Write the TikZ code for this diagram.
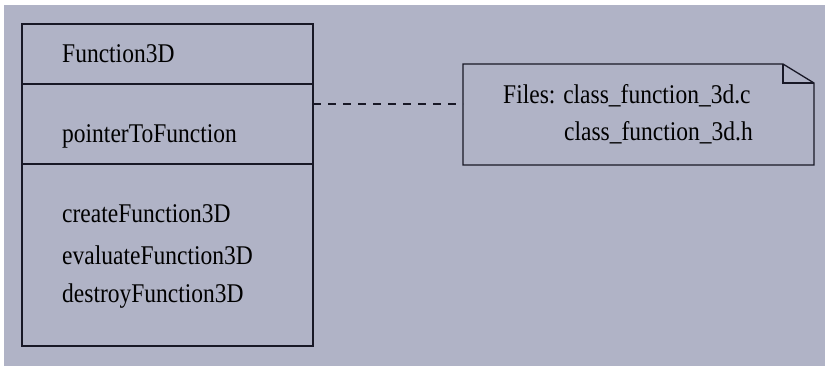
\documentclass[tikz,border=0pt]{standalone}
\usepackage{fontspec}
\setmainfont{Liberation Serif}
\definecolor{bgblue}{RGB}{176,179,198}
\definecolor{linedark}{RGB}{24,24,38}
\newcommand{\umltext}[1]{\scalebox{1}[1.15]{#1}}
\tikzset{
  member/.style={anchor=west, inner sep=0pt, font=\rmfamily\fontsize{23.5}{26}\selectfont},
  umlline/.style={draw=linedark, line width=1.3pt},
}
\begin{document}
\begin{tikzpicture}[x=1pt, y=-1pt]
		\fill[white] (0,0) rectangle (825,366);
		\fill[bgblue] (4,5) rectangle (825,366);
		\useasboundingbox (0,0) rectangle (825,366);
		% class box
		\draw[umlline] (22,24) rectangle (313,346);
		\draw[umlline] (22,84)--(313,84);
		\draw[umlline] (22,164)--(313,164);
		\node[member] (name) at (62,54) {\umltext{Function3D}};
		\node[member] (attr) at (62,136) {\umltext{pointerToFunction}};
		\node[member] (create) at (62,214) {\umltext{createFunction3D}};
		\node[member] (eval) at (62,255) {\umltext{evaluateFunction3D}};
		\node[member] (destroy) at (62,296) {\umltext{destroyFunction3D}};
		\coordinate (classR) at (313,104);
		% note
		\draw[umlline] (463,64)--(783,64)--(814,83)--(814,165)--(463,165)--cycle;
		\draw[umlline] (783,64)--(783,83)--(814,83);
		\node[member] (files) at (503,96) {\umltext{Files: class\_function\_3d.c}};
		\node[member] (fileh) at (564,133) {\umltext{class\_function\_3d.h}};
		\coordinate (noteL) at (463,104);
		\draw[umlline, dash pattern=on 8pt off 7pt] (classR)--(noteL);
	\end{tikzpicture}
\end{document}
